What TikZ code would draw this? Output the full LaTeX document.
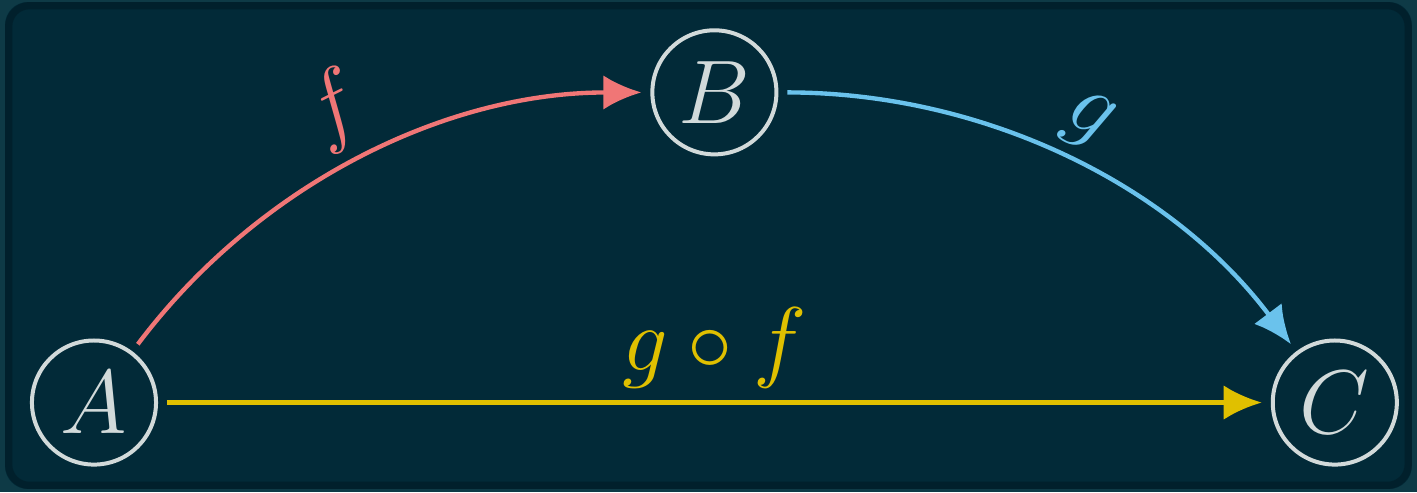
\documentclass[tikz,border=0pt]{standalone}
\usepackage{amsmath,amssymb}
\usepackage{xcolor}
\usepackage{tikz}
\usetikzlibrary{arrows.meta}
\definecolor{pagebg}{HTML}{0E3A46}
\definecolor{boxbg}{HTML}{022A38}
\definecolor{boxedge}{HTML}{011D27}
\definecolor{objgray}{HTML}{D2DADA}
\definecolor{fred}{HTML}{F07676}
\definecolor{gblue}{HTML}{6AC2EC}
\definecolor{gfyellow}{HTML}{E0C000}

\begin{document}
\begin{tikzpicture}[
  obj/.style={circle, draw=objgray, text=objgray, line width=1.1pt, minimum size=1.2cm, inner sep=0pt, outer sep=3pt, font=\Huge},
  map/.style={line width=1.2pt, -{Latex[length=10.5pt, width=9.5pt]}},
  maplabel/.style={font=\Huge}
]
  % Background panel
  \useasboundingbox (-0.909,-0.866) rectangle (12.795,3.893);
  \fill[pagebg] (-0.909,-0.866) rectangle (12.795,3.893);
  \fill[boxbg, rounded corners=0.22cm] (-0.86,-0.836) rectangle (12.745,3.873);
  \draw[boxedge, line width=2pt, opacity=0.7, rounded corners=0.2cm] (-0.825,-0.801) rectangle (12.71,3.838);

  % Objects
  \node[obj] (A) at (0,0) {$A$};
  \node[obj] (B) at (6,3) {$B$};
  \node[obj] (C) at (12,0) {$C$};

  % Arrows f and g
  \draw[map, fred] (A) to[bend left=26.5, looseness=0.9]
    node[midway, above, sloped, maplabel, text=fred] {$f$} (B);
  \draw[map, gblue] (B) to[bend left=26.5, looseness=0.9]
    node[midway, above, sloped, maplabel, text=gblue] {$g$} (C);

  % Composite
  \draw[map, gfyellow] (A) -- node[midway, above, maplabel, text=gfyellow] {$g \circ f$} (C);
\end{tikzpicture}
\end{document}
